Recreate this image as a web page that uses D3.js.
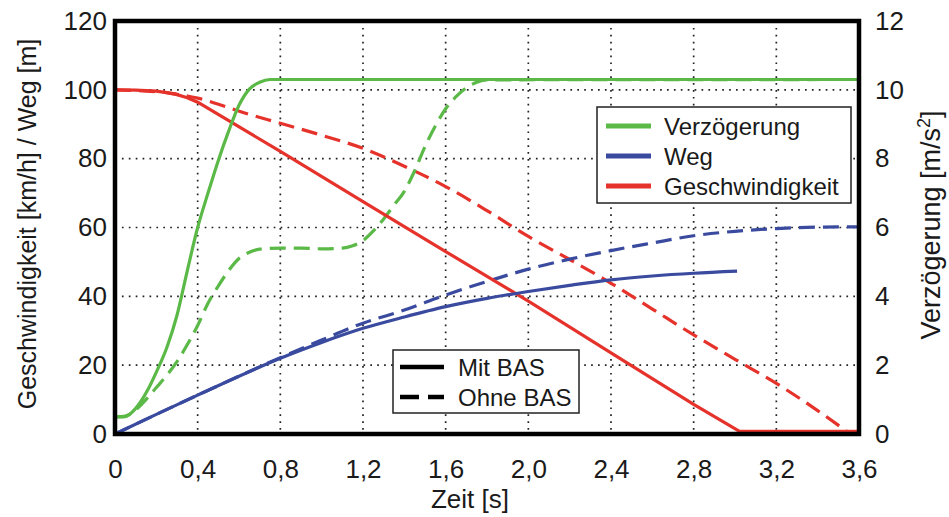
<!DOCTYPE html>
<html><head><meta charset="utf-8">
<script src="https://cdn.jsdelivr.net/npm/d3@7"></script>
<style>
body{margin:0;background:#fff;}
svg{display:block;}
text{font-family:"Liberation Sans",Arial,Helvetica,sans-serif;fill:#1a1a1a;}
</style></head>
<body>
<svg id="c" width="949" height="517"></svg>
<script>
// ---- data ----
const xTicks = [0,0.4,0.8,1.2,1.6,2.0,2.4,2.8,3.2,3.6];
const yLeftTicks = [0,20,40,60,80,100,120];
const yRightTicks = [0,2,4,6,8,10,12];

// Verzögerung [m/s²] (right axis)
const verzMitT   = [0,0.04,0.08,0.12,0.16,0.2,0.25,0.3,0.35,0.4,0.45,0.5,0.55,0.6,0.65,0.7,0.75,0.8,3.6];
const verzMitV   = [0.5,0.5,0.62,0.9,1.3,1.8,2.5,3.45,4.75,6.0,7.0,7.95,8.8,9.55,10.02,10.22,10.3,10.3,10.3];
const verzOhneT  = [0,0.05,0.1,0.15,0.2,0.25,0.3,0.35,0.4,0.45,0.5,0.55,0.6,0.65,0.7,0.8,0.9,1.0,1.1,1.15,1.2,1.25,1.3,1.35,1.4,1.45,1.5,1.55,1.6,1.65,1.7,1.75,1.8,3.6];
const verzOhneV  = [0.5,0.52,0.7,1.0,1.35,1.7,2.1,2.6,3.15,3.8,4.3,4.75,5.1,5.28,5.37,5.4,5.4,5.38,5.4,5.47,5.62,5.9,6.25,6.65,7.05,7.65,8.35,8.95,9.45,9.8,10.06,10.22,10.29,10.3];

// Weg [m] (left axis)
const wegMitT  = [0,0.2,0.4,0.6,0.8,1.0,1.2,1.4,1.6,1.8,2.0,2.2,2.4,2.6,2.8,3.01];
const wegMitV  = [0,5.7,11.3,16.8,22.0,26.6,30.7,34.0,37.0,39.4,41.4,43.2,44.8,45.9,46.7,47.3];
const wegOhneT = [0,0.2,0.4,0.6,0.8,1.0,1.2,1.4,1.6,1.8,2.0,2.2,2.4,2.6,2.8,3.0,3.2,3.4,3.6];
const wegOhneV = [0,5.7,11.3,16.8,22.2,27.3,32.2,36.0,40.4,44.3,47.9,50.8,53.3,55.5,57.6,58.9,59.7,60.1,60.2];

// Geschwindigkeit [km/h] (left axis)
const geschMitT  = [0,0.1,0.2,0.25,0.3,0.35,0.4,0.8,1.2,1.6,2.0,2.4,2.8,3.02,3.6];
const geschMitV  = [100,99.9,99.6,99.2,98.6,97.7,96.4,82.1,67.5,53.0,38.6,23.6,8.6,0.8,0.8];
const geschOhneT = [0,0.25,0.3,0.35,0.4,0.5,0.62,0.8,1.0,1.2,1.4,1.6,1.8,2.0,2.2,2.4,2.6,2.8,3.0,3.2,3.4,3.54];
const geschOhneV = [100,99.2,98.7,98.2,97.6,95.8,93.4,90.3,86.8,83.0,77.8,71.9,64.9,57.4,50.7,43.8,36.3,28.8,21.7,14.7,6.8,0.8];

const legendNames = ["Verzögerung","Weg","Geschwindigkeit"];
const legendStyles = ["Mit BAS","Ohne BAS"];

// ---- layout ----
const green = "#5bb947", blue = "#3a4b9f", red = "#e5322b";
const svg = d3.select("#c");
const L = 115, R = 859, T = 21, B = 434;
const x = d3.scaleLinear().domain([0,3.6]).range([L,R]);
const yL = d3.scaleLinear().domain([0,120]).range([B,T]);
const yR = d3.scaleLinear().domain([0,12]).range([B,T]);

// grid
const g = svg.append("g");
g.selectAll(".vg").data(xTicks.slice(1,-1)).join("line")
  .attr("x1",d=>x(d)).attr("x2",d=>x(d)).attr("y1",T).attr("y2",B)
  .attr("stroke","#222").attr("stroke-width",1.7).attr("stroke-dasharray","1.7,5.2");
g.selectAll(".hg").data(yLeftTicks.slice(1,-1)).join("line")
  .attr("x1",L).attr("x2",R).attr("y1",d=>yL(d)).attr("y2",d=>yL(d))
  .attr("stroke","#222").attr("stroke-width",1.7).attr("stroke-dasharray","1.7,5.2");

// axes (labels only)
const fs = 26;
const axB = svg.append("g").attr("transform",`translate(0,${B})`)
  .call(d3.axisBottom(x).tickValues(xTicks).tickSize(0).tickPadding(26)
    .tickFormat(d=>d===0?"0":d3.format(".1f")(d).replace(".",",")));
const axL = svg.append("g").attr("transform",`translate(${L},0)`)
  .call(d3.axisLeft(yL).tickValues(yLeftTicks).tickSize(0).tickPadding(8));
const axR = svg.append("g").attr("transform",`translate(${R},0)`)
  .call(d3.axisRight(yR).tickValues(yRightTicks).tickSize(0).tickPadding(16));
[axB,axL,axR].forEach(a=>{
  a.select(".domain").remove();
  a.selectAll("text").attr("font-size",fs).attr("font-family","Liberation Sans, Arial, sans-serif").attr("fill","#1a1a1a");
});

// lines
function zip(t,v){return t.map((d,i)=>[d,v[i]]);}
const lineL = d3.line().x(d=>x(d[0])).y(d=>yL(d[1])).curve(d3.curveMonotoneX);
const lineLlin = d3.line().x(d=>x(d[0])).y(d=>yL(d[1])).curve(d3.curveLinear);
const lineR = d3.line().x(d=>x(d[0])).y(d=>yR(d[1])).curve(d3.curveMonotoneX);
const plot = svg.append("g");
function draw(path, color, dashed){
  plot.append("path").attr("d",path).attr("fill","none").attr("stroke",color)
    .attr("stroke-width",3.2).attr("stroke-linejoin","round")
    .attr("stroke-dasharray",dashed?"16,8":null);
}
draw(lineL(zip(geschOhneT,geschOhneV)), red, true);
draw(lineL(zip(wegOhneT,wegOhneV)), blue, true);
draw(lineR(zip(verzOhneT,verzOhneV)), green, true);
draw(lineLlin(zip(geschMitT,geschMitV)), red, false);
draw(lineL(zip(wegMitT,wegMitV)), blue, false);
draw(lineR(zip(verzMitT,verzMitV)), green, false);

// frame
svg.append("rect").attr("x",L).attr("y",T).attr("width",R-L).attr("height",B-T)
  .attr("fill","none").attr("stroke","#000").attr("stroke-width",4.5);

// legend 1
const lg1 = svg.append("g");
lg1.append("rect").attr("x",597).attr("y",107).attr("width",254).attr("height",96)
  .attr("fill","#fff").attr("stroke","#222").attr("stroke-width",1.5);
const lcols = [green, blue, red];
legendNames.forEach((n,i)=>{
  const yy = 126 + i*30;
  lg1.append("line").attr("x1",606).attr("x2",651).attr("y1",yy).attr("y2",yy)
    .attr("stroke",lcols[i]).attr("stroke-width",5);
  lg1.append("text").attr("x",664).attr("y",yy+8.5).attr("font-size",24).text(n);
});

// legend 2
const lg2 = svg.append("g");
lg2.append("rect").attr("x",393).attr("y",350).attr("width",186).attr("height",63)
  .attr("fill","#fff").attr("stroke","#222").attr("stroke-width",1.5);
legendStyles.forEach((n,i)=>{
  const yy = 367 + i*30;
  lg2.append("line").attr("x1",400).attr("x2",444).attr("y1",yy).attr("y2",yy)
    .attr("stroke","#000").attr("stroke-width",4.5).attr("stroke-dasharray",i?"19,9":null);
  lg2.append("text").attr("x",458).attr("y",yy+8.5).attr("font-size",24).text(n);
});

// axis titles
svg.append("text").attr("x",470).attr("y",508).attr("text-anchor","middle")
  .attr("font-size",26).text("Zeit [s]");
svg.append("text").attr("transform","translate(36,224) rotate(-90)")
  .attr("text-anchor","middle").attr("font-size",25).text("Geschwindigkeit [km/h] / Weg [m]");
const rt = svg.append("text").attr("transform","translate(940,225) rotate(-90)")
  .attr("text-anchor","middle").attr("font-size",27);
rt.append("tspan").text("Verzögerung [m/s");
rt.append("tspan").attr("font-size",18).attr("dy",-10).text("2");
rt.append("tspan").attr("dy",10).text("]");
</script>
</body></html>
